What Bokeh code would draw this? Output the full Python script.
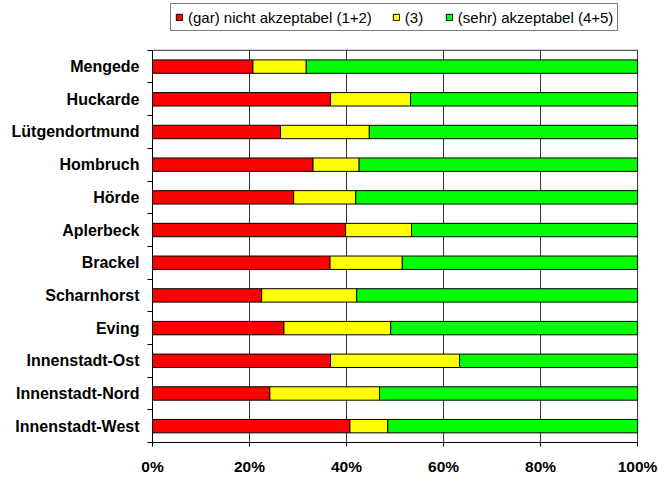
from bokeh.plotting import figure
from bokeh.models import (ColumnDataSource, FixedTicker, Legend, LegendItem,
                          PrintfTickFormatter, Range1d)
from bokeh.embed import file_html
from bokeh.resources import INLINE

# ---- data (top to bottom as in the chart) ----
districts = ["Mengede", "Huckarde", "Lütgendortmund", "Hombruch", "Hörde",
             "Aplerbeck", "Brackel", "Scharnhorst", "Eving", "Innenstadt-Ost",
             "Innenstadt-Nord", "Innenstadt-West"]
nicht_akzeptabel = [20.7, 36.7, 26.4, 33.1, 29.1, 39.8, 36.6, 22.5, 27.1, 36.7, 24.2, 40.7]
mittel = [11.0, 16.5, 18.3, 9.5, 12.8, 13.6, 14.9, 19.6, 22.0, 26.6, 22.6, 7.8]
akzeptabel = [68.3, 46.8, 55.3, 57.4, 58.1, 46.6, 48.5, 57.9, 50.9, 36.7, 53.2, 51.5]
series_labels = ["(gar) nicht akzeptabel (1+2)", "(3)", "(sehr) akzeptabel (4+5)"]
series_colors = ["#FF0000", "#FFFF00", "#00FF00"]
x_ticks = [0, 20, 40, 60, 80, 100]

n = len(districts)
ypos = [n - 1 - i for i in range(n)]
l0 = [0.0] * n
r0 = [a for a in nicht_akzeptabel]
r1 = [a + b for a, b in zip(nicht_akzeptabel, mittel)]
r2 = [a + b + c for a, b, c in zip(nicht_akzeptabel, mittel, akzeptabel)]
src = ColumnDataSource(dict(y=ypos, l0=l0, r0=r0, r1=r1, r2=r2))

FONT = "Liberation Sans"

# layout (pixels): plot area 152..637 x 50..444, legend band above it
FRAME_TOP_PAD = 50
ROWS_PX = 394
y_lo = -0.5
y_hi = n - 0.5
y_end = y_hi + n * FRAME_TOP_PAD / ROWS_PX
x_end = 100.4

p = figure(width=658, height=477, output_backend="svg", toolbar_location=None,
           title=None,
           x_range=Range1d(0, x_end), y_range=Range1d(y_lo, y_end),
           min_border_left=152, min_border_right=658 - 152 - int(round(485 * x_end / 100)),
           min_border_top=0, min_border_bottom=33)
p.background_fill_color = "white"
p.border_fill_color = "white"
p.outline_line_color = None
p.xgrid.visible = False
p.ygrid.visible = False

# grid lines and top border of the plot area
grid_x = [t for t in x_ticks if t > 0]
p.segment(x0=grid_x, x1=grid_x, y0=[y_lo] * len(grid_x), y1=[y_hi] * len(grid_x),
          line_color="#333333", line_width=1)
p.segment(x0=[0], x1=[100], y0=[y_hi], y1=[y_hi], line_color="#333333", line_width=1)

bounds = [("l0", "r0"), ("r0", "r1"), ("r1", "r2")]
renderers = []
for (lk, rk), col in zip(bounds, series_colors):
    r = p.hbar(y="y", left=lk, right=rk, height=0.41, source=src,
               fill_color=col, line_color="#000000", line_width=1)
    renderers.append(r)

# x axis
p.xaxis.ticker = FixedTicker(ticks=x_ticks, minor_ticks=[])
p.xaxis.bounds = (0, 100)
p.xaxis.formatter = PrintfTickFormatter(format="%d%%")
p.xaxis.major_tick_out = 4
p.xaxis.major_tick_in = 0
p.xaxis.minor_tick_line_color = None
p.xaxis.axis_line_color = "#000000"
p.xaxis.major_tick_line_color = "#000000"
p.xaxis.major_label_standoff = 11
p.xaxis.major_label_text_font = FONT
p.xaxis.major_label_text_font_style = "bold"
p.xaxis.major_label_text_font_size = "15.5px"
p.xaxis.major_label_text_color = "#000000"

# y axis: labels at row centres, ticks at row boundaries
p.yaxis.ticker = FixedTicker(ticks=ypos, minor_ticks=[k - 0.5 for k in range(n + 1)])
p.yaxis.bounds = (y_lo, y_hi)
p.yaxis.major_label_overrides = {y: d for y, d in zip(ypos, districts)}
p.yaxis.major_tick_line_color = None
p.yaxis.major_tick_out = 0
p.yaxis.major_tick_in = 0
p.yaxis.minor_tick_out = 5
p.yaxis.minor_tick_in = 0
p.yaxis.minor_tick_line_color = "#000000"
p.yaxis.axis_line_color = "#000000"
p.yaxis.major_label_standoff = 8
p.yaxis.major_label_text_font = FONT
p.yaxis.major_label_text_font_style = "bold"
p.yaxis.major_label_text_font_size = "16px"
p.yaxis.major_label_text_color = "#000000"

legend = Legend(items=[LegendItem(label=lab, renderers=[r])
                       for lab, r in zip(series_labels, renderers)],
                orientation="horizontal", location=(18, 411))
legend.glyph_width = 8
legend.glyph_height = 8
legend.label_standoff = 5
legend.spacing = 20
legend.padding = 4
legend.margin = 0
legend.label_height = 18
legend.label_text_font = FONT
legend.label_text_font_size = "15px"
legend.label_text_color = "#000000"
legend.border_line_color = "#000000"
legend.border_line_width = 1
legend.background_fill_color = "white"
legend.background_fill_alpha = 1.0
p.add_layout(legend, "center")

open("out.html", "w").write(file_html(p, INLINE))
